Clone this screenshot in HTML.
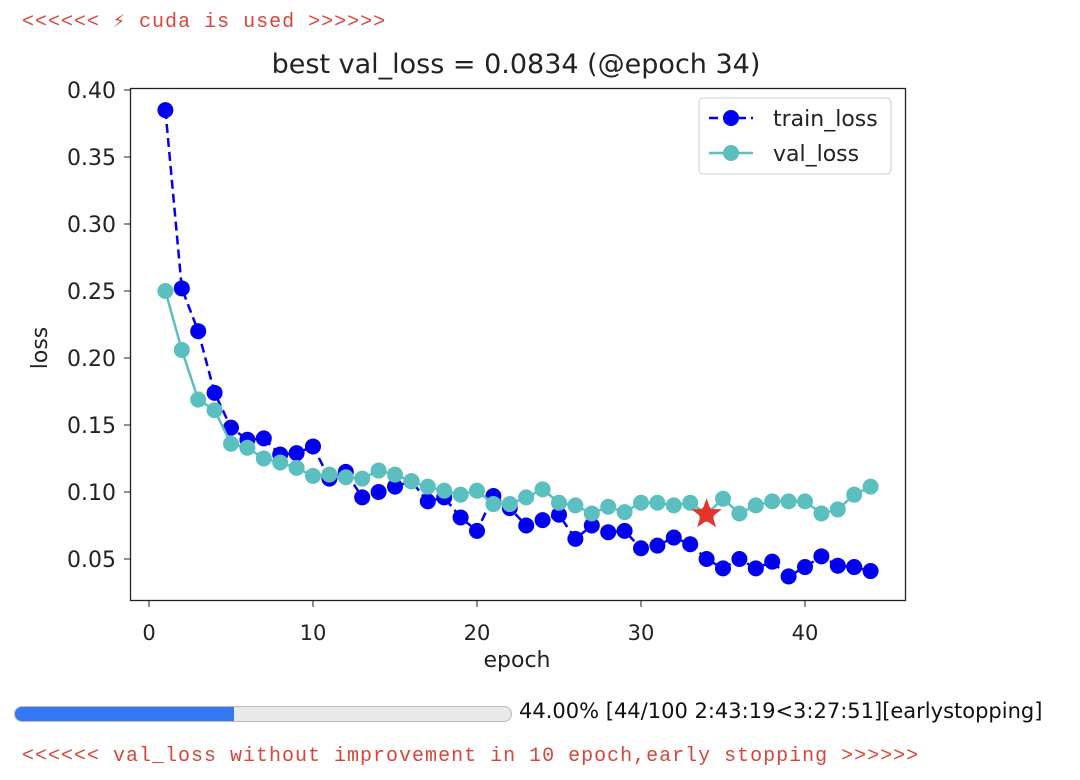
<!DOCTYPE html>
<html><head><meta charset="utf-8"><style>
body{margin:0;width:1080px;height:780px;background:#fff;position:relative;overflow:hidden;font-family:"DejaVu Sans",sans-serif}
.mono{position:absolute;left:22px;font-family:"Liberation Mono",monospace;color:#d9453b;font-size:20px;letter-spacing:1.0px;white-space:pre}
</style></head><body>
<div class="mono" style="top:8px">&lt;&lt;&lt;&lt;&lt;&lt; ⚡ cuda is used &gt;&gt;&gt;&gt;&gt;&gt;</div>
<svg id="chart" width="1080" height="680" style="position:absolute;left:0;top:0;font-family:'DejaVu Sans',sans-serif"></svg>
<div style="position:absolute;left:14px;top:706px;width:496px;height:14px;border:1px solid #bbb;border-radius:8px;background:#e8e8e8;overflow:hidden"><div style="width:219px;height:100%;background:#3478f6"></div></div>
<div style="position:absolute;left:519px;top:699px;font-size:21px;color:#111;white-space:nowrap">44.00% [44/100 2:43:19&lt;3:27:51][earlystopping]</div>
<div class="mono" style="top:745px">&lt;&lt;&lt;&lt;&lt;&lt; val_loss without improvement in 10 epoch,early stopping &gt;&gt;&gt;&gt;&gt;&gt;</div>
<script>
const trainLoss=[0.385,0.252,0.22,0.174,0.148,0.139,0.14,0.128,0.129,0.134,0.11,0.115,0.096,0.10,0.104,0.108,0.093,0.096,0.081,0.071,0.097,0.088,0.075,0.079,0.083,0.065,0.075,0.07,0.071,0.058,0.06,0.066,0.061,0.05,0.043,0.05,0.043,0.048,0.037,0.044,0.052,0.045,0.044,0.041];
const valLoss=[0.25,0.206,0.169,0.161,0.136,0.133,0.125,0.122,0.118,0.112,0.113,0.111,0.110,0.116,0.113,0.108,0.104,0.101,0.098,0.101,0.091,0.091,0.096,0.102,0.092,0.090,0.084,0.089,0.085,0.092,0.092,0.090,0.092,0.0834,0.095,0.084,0.090,0.093,0.093,0.093,0.084,0.087,0.098,0.104];
const xTicks=[0,10,20,30,40];
const yTicks=[0.05,0.10,0.15,0.20,0.25,0.30,0.35,0.40];
const bestEpoch=34, bestVal=0.0834;
const NS="http://www.w3.org/2000/svg", svg=document.getElementById('chart');
const X=e=>149+e*16.4, Y=v=>90+(0.40-v)*1340;
function mk(t,a,txt){const el=document.createElementNS(NS,t);for(const k in a)el.setAttribute(k,a[k]);if(txt!=null)el.textContent=txt;svg.appendChild(el);return el;}
let e;
e=mk('rect',{x:130.5,y:88.5,width:775,height:512,fill:'none',stroke:'#222','stroke-width':1.3});


xTicks.forEach(t=>{mk('line',{x1:X(t),x2:X(t),y1:601,y2:607,stroke:'#222'});
e=mk('text',{x:X(t),y:640,'text-anchor':'middle','font-size':21,fill:'#222'},t);

});
yTicks.forEach(t=>{mk('line',{x1:124,x2:130,y1:Y(t),y2:Y(t),stroke:'#222'});
e=mk('text',{x:116,y:Y(t)+8,'text-anchor':'end','font-size':22,fill:'#222'},t.toFixed(2));

});
e=mk('text',{x:517,y:667,'text-anchor':'middle','font-size':22,fill:'#222'},'epoch');


e=mk('text',{x:0,y:0,'text-anchor':'middle','font-size':22,fill:'#222',transform:'translate(47,348) rotate(-90)'},'loss');


e=mk('text',{x:516,y:73,'text-anchor':'middle','font-size':27,fill:'#222'},'best val_loss = 0.0834 (@epoch 34)');


function series(d,c,dash,name){
 e=mk('polyline',{points:d.map((v,i)=>X(i+1)+','+Y(v)).join(' '),fill:'none',stroke:c,'stroke-width':2.5,'stroke-dasharray':dash});
 
 
 d.forEach((v,i)=>{e=mk('circle',{cx:X(i+1),cy:Y(v),r:8,fill:c});
 
 });
}
series(trainLoss,'#0000ee','9,5','train-loss');
series(valLoss,'#5bbfbf','none','val-loss');
const sx=X(bestEpoch),sy=Y(bestVal);let pts=[];
for(let i=0;i<10;i++){const r=i%2?6.5:16,a=-Math.PI/2+i*Math.PI/5;pts.push((sx+r*Math.cos(a))+','+(sy+r*Math.sin(a)));}
e=mk('polygon',{points:pts.join(' '),fill:'#e5332a'});


e=mk('rect',{x:699,y:98,width:192,height:76,rx:4,fill:'#fff',stroke:'#ccc'});


mk('line',{x1:709,x2:753,y1:118,y2:118,stroke:'#0000ee','stroke-width':2.5,'stroke-dasharray':'9,5'});
mk('circle',{cx:731,cy:118,r:8,fill:'#0000ee'});
e=mk('text',{x:773,y:126,'font-size':22,fill:'#222'},'train_loss');


mk('line',{x1:709,x2:753,y1:153,y2:153,stroke:'#5bbfbf','stroke-width':2.5});
mk('circle',{cx:731,cy:153,r:8,fill:'#5bbfbf'});
e=mk('text',{x:773,y:161,'font-size':22,fill:'#222'},'val_loss');


</script>
</body></html>
